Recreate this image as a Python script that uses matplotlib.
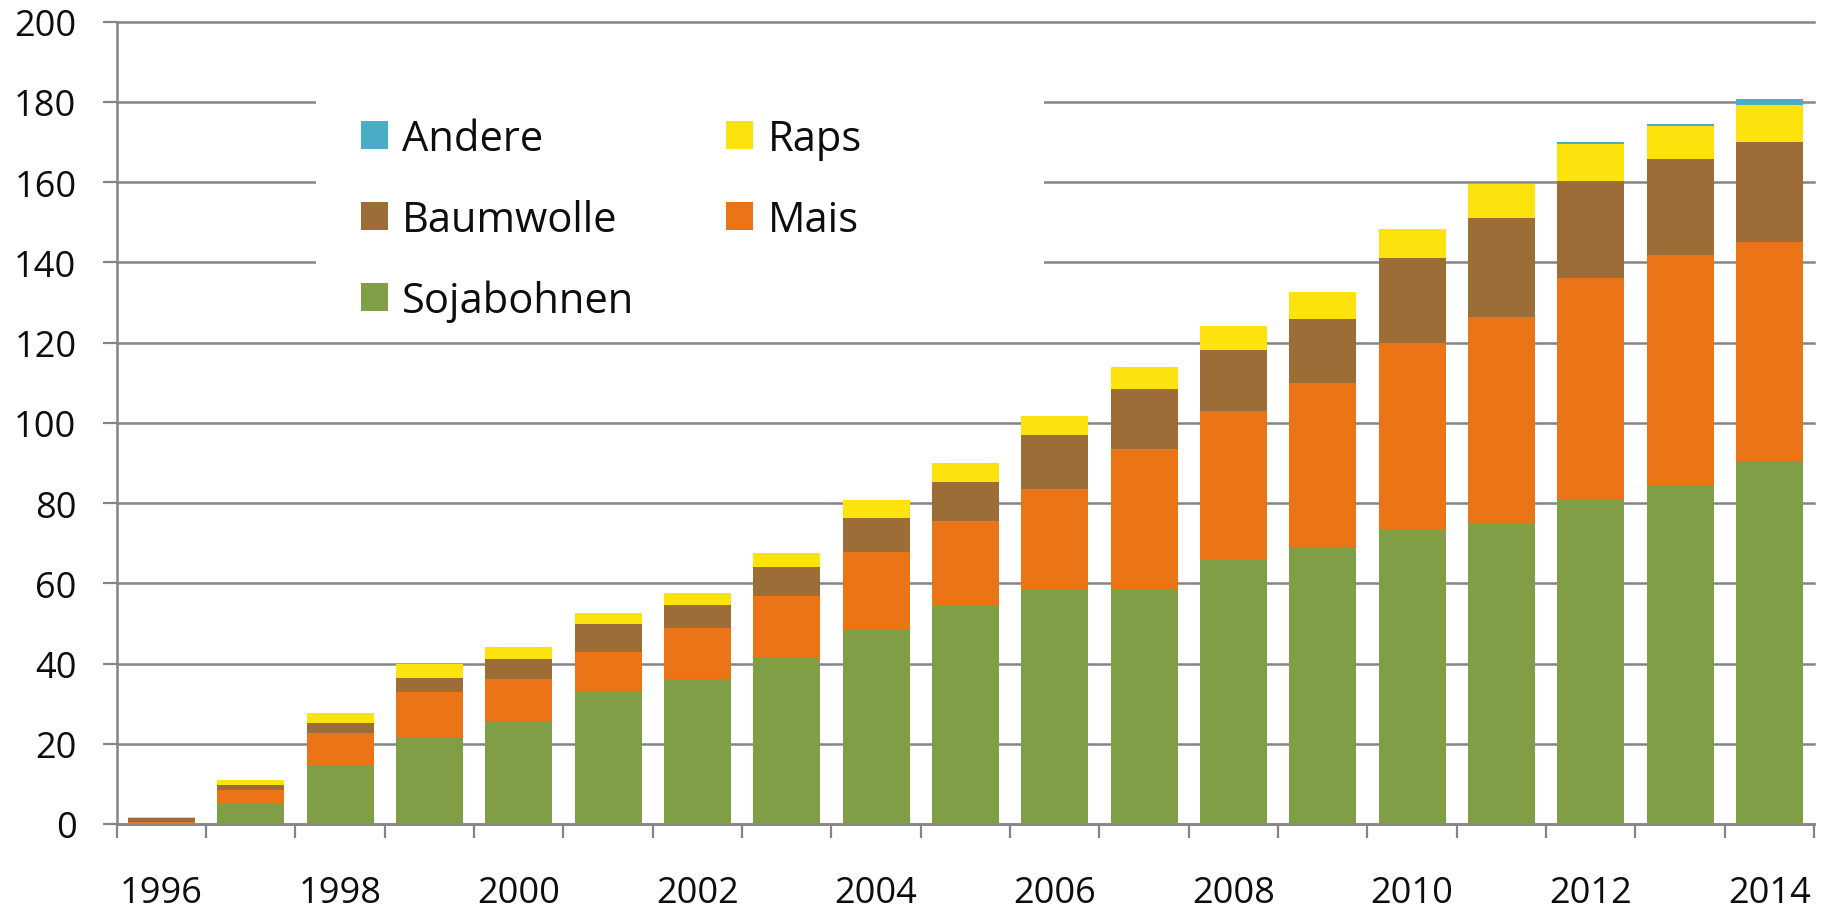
import matplotlib
matplotlib.use('Agg')
import matplotlib.pyplot as plt
from matplotlib.patches import Rectangle
import numpy as np

# ---- data (million hectares) ----
years = list(range(1996, 2015))
sojabohnen = [0.0, 5.0, 14.6, 21.8, 25.7, 33.1, 36.1, 41.5, 48.3, 54.4,
              58.4, 58.3, 65.7, 69.0, 73.3, 75.1, 80.9, 84.4, 90.4]
mais = [0.4, 3.5, 8.2, 11.0, 10.4, 9.9, 12.7, 15.4, 19.5, 21.2,
        25.2, 35.3, 37.2, 41.0, 46.7, 51.4, 55.1, 57.5, 54.6]
baumwolle = [1.1, 1.1, 2.3, 3.6, 5.1, 6.8, 5.9, 7.1, 8.6, 9.7,
             13.3, 14.8, 15.3, 15.9, 21.0, 24.5, 24.3, 23.9, 24.9]
raps = [0.2, 1.4, 2.6, 3.4, 2.8, 2.7, 3.0, 3.6, 4.3, 4.6,
        4.8, 5.4, 5.9, 6.6, 7.3, 8.5, 9.2, 8.1, 9.3]
andere = [0.0, 0.0, 0.0, 0.0, 0.0, 0.0, 0.0, 0.0, 0.0, 0.0,
          0.0, 0.0, 0.0, 0.0, 0.0, 0.0, 0.6, 0.6, 1.5]
y_ticks = [0, 20, 40, 60, 80, 100, 120, 140, 160, 180, 200]
x_label_years = [1996, 1998, 2000, 2002, 2004, 2006, 2008, 2010, 2012, 2014]

plt.rcParams['font.family'] = ['Open Sans', 'DejaVu Sans']

GRAY = '#858585'
TXT = '#0d0d0d'
fig = plt.figure(figsize=(18.33, 9.12), dpi=100)
ax = fig.add_axes([116.7 / 1833, 1 - 825 / 912, (1814 - 116.7) / 1833, (825 - 22.7) / 912])

x = np.arange(len(years))
bottom = np.zeros(len(years))
series = [('Sojabohnen', sojabohnen, '#7F9E45'),
          ('Mais', mais, '#EB7516'),
          ('Baumwolle', baumwolle, '#9C6D37'),
          ('Raps', raps, '#FCE30E'),
          ('Andere', andere, '#4BACC6')]
handles = {}
for name, vals, col in series:
    v = np.array(vals, dtype=float)
    b = ax.bar(x, v, width=0.75, bottom=bottom, color=col, linewidth=0,
               zorder=3, label=name)
    handles[name] = b
    bottom += v

ax.set_xlim(-0.5, len(years) - 0.5)
ax.set_ylim(0, 200)

# y axis
ax.set_yticks(y_ticks)
ax.set_yticklabels([str(t) for t in y_ticks])
ax.tick_params(axis='y', which='major', direction='out', length=10, width=1.6,
               color=GRAY, labelsize=26, pad=19, labelcolor=TXT)
ax.yaxis.grid(True, color=GRAY, linewidth=1.8)
ax.set_axisbelow(True)
for gl in ax.get_ygridlines():
    gl.set_clip_on(False)

# x axis: ticks at category boundaries, labels every other year at centres
ax.set_xticks(np.arange(-0.5, len(years), 1.0))
ax.set_xticklabels([])
ax.tick_params(axis='x', which='major', direction='out', length=10, width=1.6,
               color=GRAY)
lab_pos = [years.index(y) for y in x_label_years]
ax.set_xticks(lab_pos, minor=True)
ax.set_xticklabels([str(y) for y in x_label_years], minor=True)
ax.tick_params(axis='x', which='minor', length=0, labelsize=26, pad=37,
               labelcolor=TXT)

for s in ['top', 'right']:
    ax.spines[s].set_visible(False)
ax.spines['left'].set_color(GRAY)
ax.spines['left'].set_linewidth(1.8)
ax.spines['bottom'].set_color(GRAY)
ax.spines['bottom'].set_linewidth(1.8)

# white background behind the legend (hides gridlines as in the original)
ax.add_patch(Rectangle((0.1174, 0.617), 0.429, 0.336, transform=ax.transAxes,
                       facecolor='white', edgecolor='none', zorder=1))

order = ['Andere', 'Baumwolle', 'Sojabohnen', 'Raps', 'Mais']
leg = ax.legend([handles[n] for n in order], order, ncol=2, frameon=False,
                fontsize=30, loc='upper left',
                bbox_to_anchor=(361 / 1833, 1 - 119 / 912),
                bbox_transform=fig.transFigure, borderaxespad=0, borderpad=0,
                handlelength=0.65, handleheight=0.65, handletextpad=0.34,
                columnspacing=2.2, labelspacing=0.93)
for t in leg.get_texts():
    t.set_color(TXT)
leg.set_zorder(5)

fig.savefig('out.png', dpi=100, facecolor='white')
